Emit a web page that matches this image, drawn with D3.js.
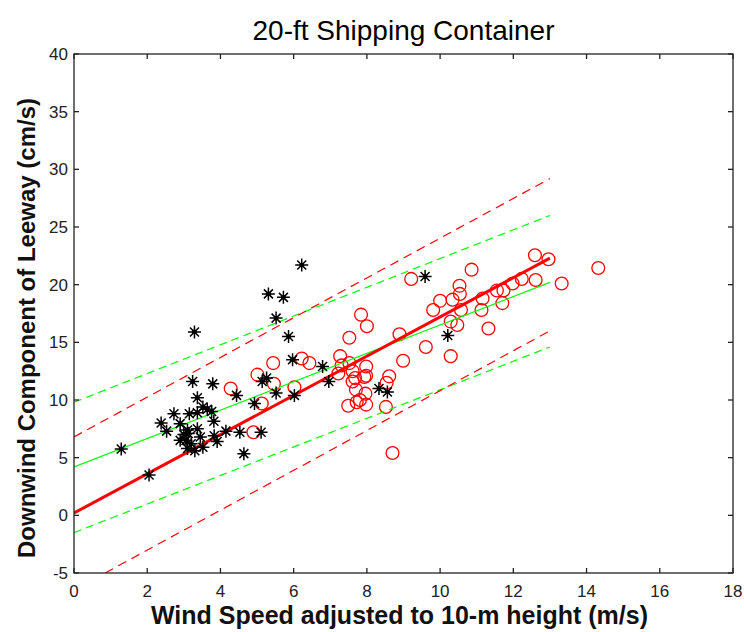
<!DOCTYPE html>
<html>
<head>
<meta charset="utf-8">
<script src="https://cdn.jsdelivr.net/npm/d3@7"></script>
<style>
  body { margin: 0; background: #fff; }
  svg { font-family: Arial, "Liberation Sans", sans-serif; }
</style>
</head>
<body>
<svg width="744" height="632"></svg>
<script>
// leeway observations, wind speed (m/s) vs downwind leeway (cm/s)
const blackStars = [
  [6.22, 21.7], [5.31, 19.2], [5.72, 18.9], [5.52, 17.1], [3.29, 15.9], [5.86, 15.5],
  [5.97, 13.5], [6.79, 12.9], [6.96, 11.6], [3.24, 11.6], [3.79, 11.4], [5.26, 11.9],
  [5.14, 11.6], [4.44, 10.4], [5.52, 10.6], [4.93, 9.7], [6.02, 10.4], [3.37, 10.2],
  [2.73, 8.8], [3.15, 8.8], [3.37, 8.9], [3.52, 9.4], [3.64, 9.2], [3.76, 9.0],
  [2.38, 8.0], [2.53, 7.3], [2.9, 7.95], [3.1, 7.4], [3.12, 7.1], [3.06, 6.5],
  [3.37, 7.5], [3.82, 8.15], [3.83, 6.9], [3.91, 6.4], [4.15, 7.3], [4.53, 7.2],
  [5.11, 7.2], [4.64, 5.35], [2.9, 6.5], [3.1, 5.8], [3.3, 5.6], [3.52, 5.9],
  [1.29, 5.75], [2.05, 3.5], [9.59, 20.7], [8.33, 11.0], [8.56, 10.7], [10.21, 15.6],
  [3.0, 7.0], [3.2, 6.2], [3.45, 6.8]
];
const redCircles = [
  [4.28, 11.0], [4.9, 7.2], [5.01, 12.2], [5.13, 9.7], [5.44, 13.2], [5.46, 11.4],
  [6.02, 11.1], [6.22, 13.6], [6.43, 13.2], [7.27, 13.8], [7.22, 12.3], [7.52, 15.4],
  [7.84, 17.4], [8.0, 16.4], [7.52, 13.2], [7.98, 12.9], [7.98, 12.1], [7.61, 12.5],
  [7.68, 11.9], [7.61, 11.6], [7.93, 12.0], [8.61, 12.05], [8.54, 11.5], [7.7, 10.9],
  [7.96, 10.55], [7.81, 10.0], [7.72, 9.8], [7.49, 9.5], [7.98, 9.6], [8.52, 9.4],
  [8.7, 5.4], [8.89, 15.7], [8.99, 13.4], [9.21, 20.5], [9.61, 14.6], [9.81, 17.8],
  [10.0, 18.6], [10.29, 16.8], [10.47, 16.5], [10.29, 13.8], [10.34, 18.7], [10.53, 19.9],
  [10.54, 19.2], [10.57, 17.8], [10.86, 21.3], [11.13, 17.8], [11.16, 18.8], [11.32, 16.2],
  [11.55, 19.5], [11.73, 19.5], [11.7, 18.4], [11.98, 20.1], [12.23, 20.5], [12.61, 20.4],
  [12.59, 22.55], [12.96, 22.2], [13.32, 20.1], [14.32, 21.45], [7.31, 13.0]
];
// regression lines and bounds, as end points
const redFit = [[0, 0.2], [13, 22.3]];
const redUpper = [[0, 6.8], [13, 29.2]];
const redLower = [[0.85, -5], [13, 16.0]];
const greenFit = [[0, 4.2], [13, 20.2]];
const greenUpper = [[0, 9.8], [13, 26.0]];
const greenLower = [[0, -1.5], [13, 14.6]];

const xTicks = d3.range(0, 19, 2);
const yTicks = d3.range(-5, 41, 5);

const LEFT = 74, RIGHT = 733, TOP = 54, BOTTOM = 573;
const TICK = 5;

const svg = d3.select("svg");
const x = d3.scaleLinear().domain([0, 18]).range([LEFT, RIGHT]);
const y = d3.scaleLinear().domain([-5, 40]).range([BOTTOM, TOP]);

svg.append("defs").append("clipPath").attr("id", "plot")
  .append("rect")
  .attr("x", LEFT).attr("y", TOP)
  .attr("width", RIGHT - LEFT).attr("height", BOTTOM - TOP);

// circles first
svg.append("g")
  .selectAll("circle")
  .data(redCircles)
  .join("circle")
  .attr("cx", (d) => x(d[0]))
  .attr("cy", (d) => y(d[1]))
  .attr("r", 6.4)
  .attr("fill", "none")
  .attr("stroke", "#ff0000")
  .attr("stroke-width", 1.3);

const line = d3.line().x((d) => x(d[0])).y((d) => y(d[1]));
const lines = [
  { pts: greenUpper, color: "#00ff00", w: 1.2, dash: "8,5" },
  { pts: greenLower, color: "#00ff00", w: 1.2, dash: "8,5" },
  { pts: greenFit, color: "#00ff00", w: 1.2, dash: null },
  { pts: redUpper, color: "#ff0000", w: 1.2, dash: "9,6" },
  { pts: redLower, color: "#ff0000", w: 1.2, dash: "9,6" },
  { pts: redFit, color: "#ff0000", w: 3, dash: null },
];
svg.append("g")
  .attr("clip-path", "url(#plot)")
  .selectAll("path")
  .data(lines)
  .join("path")
  .attr("d", (d) => line(d.pts))
  .attr("fill", "none")
  .attr("stroke", (d) => d.color)
  .attr("stroke-width", (d) => d.w)
  .attr("stroke-dasharray", (d) => d.dash);

// star markers ('*')
const starPath = "M-6.5,0H6.5M0,-6.5V6.5M-4.5,-4.5L4.5,4.5M-4.5,4.5L4.5,-4.5";
const stars = svg.append("g")
  .selectAll("g")
  .data(blackStars)
  .join("g")
  .attr("transform", (d) => `translate(${x(d[0])},${y(d[1])})`);
stars.append("path")
  .attr("d", starPath)
  .attr("stroke", "#000")
  .attr("stroke-width", 1.5);
stars.append("circle").attr("r", 2.4).attr("fill", "#000");

// axes box with inward ticks on every side
const axisColor = "#222";
svg.append("rect")
  .attr("x", LEFT).attr("y", TOP)
  .attr("width", RIGHT - LEFT).attr("height", BOTTOM - TOP)
  .attr("fill", "none")
  .attr("stroke", axisColor)
  .attr("stroke-width", 1.3);

const ticks = svg.append("g").attr("stroke", axisColor).attr("stroke-width", 1.3);
ticks.selectAll(".xb").data(xTicks).join("line")
  .attr("x1", (d) => x(d)).attr("x2", (d) => x(d))
  .attr("y1", BOTTOM).attr("y2", BOTTOM - TICK);
ticks.selectAll(".xt").data(xTicks).join("line")
  .attr("x1", (d) => x(d)).attr("x2", (d) => x(d))
  .attr("y1", TOP).attr("y2", TOP + TICK);
ticks.selectAll(".yl").data(yTicks).join("line")
  .attr("x1", LEFT).attr("x2", LEFT + TICK)
  .attr("y1", (d) => y(d)).attr("y2", (d) => y(d));
ticks.selectAll(".yr").data(yTicks).join("line")
  .attr("x1", RIGHT).attr("x2", RIGHT - TICK)
  .attr("y1", (d) => y(d)).attr("y2", (d) => y(d));

svg.append("g")
  .selectAll("text")
  .data(xTicks)
  .join("text")
  .attr("x", (d) => x(d))
  .attr("y", BOTTOM + 24)
  .attr("text-anchor", "middle")
  .attr("font-size", 17)
  .attr("fill", "#222")
  .text((d) => d);

svg.append("g")
  .selectAll("text")
  .data(yTicks)
  .join("text")
  .attr("x", LEFT - 6)
  .attr("y", (d) => y(d) + 6)
  .attr("text-anchor", "end")
  .attr("font-size", 17)
  .attr("fill", "#222")
  .text((d) => d);

svg.append("text")
  .attr("x", (LEFT + RIGHT) / 2)
  .attr("y", 40)
  .attr("text-anchor", "middle")
  .attr("font-size", 28)
  .attr("fill", "#000")
  .text("20-ft Shipping Container");

svg.append("text")
  .attr("x", (LEFT + RIGHT) / 2 - 4)
  .attr("y", 624)
  .attr("text-anchor", "middle")
  .attr("font-size", 25)
  .attr("font-weight", "bold")
  .attr("fill", "#111")
  .text("Wind Speed adjusted to 10-m height (m/s)");

svg.append("text")
  .attr("transform", "translate(35,328) rotate(-90)")
  .attr("text-anchor", "middle")
  .attr("font-size", 24)
  .attr("font-weight", "bold")
  .attr("fill", "#111")
  .text("Downwind Component of Leeway (cm/s)");
</script>
</body>
</html>
